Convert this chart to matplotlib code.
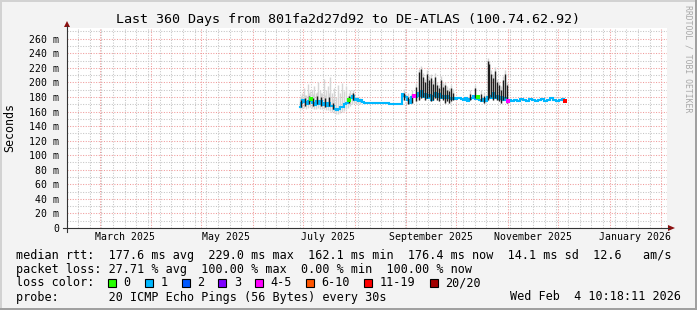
import datetime as dt
import matplotlib
matplotlib.use("Agg")
import matplotlib.pyplot as plt
import matplotlib.dates as mdates
from matplotlib.lines import Line2D
from matplotlib.patches import Rectangle, Polygon

# ---- data (x = days since graph start, y = ms) ----
t_end = dt.datetime(2026, 2, 4, 10, 18, 11)
t_start = t_end - dt.timedelta(days=360)

med_day = [139.8, 140.4, 141.6, 142.8, 144.0, 145.2, 146.4, 147.6, 148.8, 150.0,
           151.2, 152.4, 153.6, 154.8, 156.0, 157.2, 158.4, 159.6, 160.8, 162.0,
           163.2, 164.4, 165.6, 166.8, 168.0, 169.2, 170.4, 171.6, 172.8, 174.0,
           175.2, 176.4, 177.6, 178.8, 187.8, 198.6, 200.4,
           201.0, 202.2, 203.4, 204.6, 205.8, 207.0, 208.2, 209.4, 210.6, 211.8,
           213.0, 214.2, 215.4, 216.6, 217.8, 219.0, 220.2, 221.4, 222.6, 223.8,
           225.0, 226.2, 227.4, 228.6, 229.8, 231.0, 232.2, 233.4, 234.6, 235.8,
           237.0, 238.2, 239.4, 240.6, 241.8, 243.0, 244.2, 245.4, 246.6, 247.8,
           249.0, 250.2, 251.4, 252.6, 253.8, 255.0, 256.2, 257.4, 258.6, 259.8,
           261.0, 262.2, 263.4, 264.6, 265.8, 267.0,
           268.8, 270.6, 272.4, 274.2, 276.0, 277.8, 279.6, 281.4, 283.2, 285.0,
           286.8, 288.6, 290.4, 292.2, 294.0, 295.8, 297.6, 298.8]
med_ms = [166, 172, 176, 173, 170, 174, 177, 172, 169, 175,
          171, 174, 169, 172, 168, 172, 167, 168, 164, 162,
          163, 166, 166, 170, 172, 176, 179, 182, 176, 177,
          175, 176, 173, 172, 172, 171, 171,
          184, 182, 180, 176, 172, 180, 182, 180, 186, 181,
          188, 180, 184, 178, 183, 176, 182, 185, 180, 184,
          178, 182, 179, 181, 178, 177, 178, 177, 179, 178,
          177, 176, 178, 175, 177, 179, 181, 177, 180, 176,
          175, 177, 174, 180, 182, 179, 185, 178, 182, 177,
          180, 176, 178, 174, 176, 175,
          176, 175, 177, 176, 175, 177, 176, 174, 176, 177,
          175, 176, 178, 176, 175, 176, 177, 175]

# light smoke (ping spread)
smoke_day = [139.8, 141.0, 142.2, 143.4, 144.6, 145.8, 147.0, 148.2, 149.4, 150.6,
             151.8, 153.0, 154.2, 155.4, 156.6, 157.8, 159.0, 160.2, 161.4, 162.6,
             163.8, 165.0, 166.2, 167.4, 168.6, 169.8, 171.0, 172.2, 173.4, 174.6,
             175.8]
smoke_lo = [163, 164, 165, 164, 165, 166, 165, 164, 164, 165,
            164, 164, 163, 162, 162, 161, 160, 158, 157, 157,
            158, 160, 161, 163, 165, 168, 170, 172, 171, 170, 170]
smoke_hi = [178, 186, 192, 183, 198, 188, 190, 195, 185, 200,
            190, 186, 205, 190, 195, 207, 185, 192, 180, 196,
            186, 199, 188, 195, 182, 190, 186, 184, 180, 178, 178]

# dense (dark) smoke
dark_day = [140.4, 142.8, 145.2, 147.6, 150.0, 152.4, 154.8, 157.2, 159.6, 169.2, 171.6,
            202.2, 204.6, 207.0, 209.4, 211.2, 212.4, 213.6, 214.8, 216.0, 217.2,
            218.4, 219.6, 220.8, 222.0, 223.2, 224.4, 225.6, 226.8, 228.0, 229.2,
            230.4, 231.6, 241.8, 244.8, 248.4, 250.2, 252.6, 253.2, 254.4, 255.6,
            256.8, 258.0, 259.2, 260.4, 261.6, 262.8, 264.0]
dark_lo = [166, 168, 170, 168, 170, 168, 166, 168, 163, 172, 176,
           176, 170, 172, 174, 176, 178, 180, 176, 178, 180,
           174, 176, 178, 176, 174, 178, 176, 172, 175, 172,
           174, 176, 176, 178, 174, 172, 176, 178, 180, 176,
           178, 176, 174, 172, 176, 178, 172]
dark_hi = [176, 178, 181, 179, 182, 180, 178, 180, 172, 181, 185,
           186, 180, 184, 194, 214, 218, 208, 200, 212, 204,
           206, 198, 208, 196, 192, 204, 194, 196, 190, 188,
           192, 186, 184, 192, 184, 182, 229, 225, 212, 206,
           216, 200, 196, 190, 204, 212, 196]

# loss colour markers on the median line
mark_day = [146.4, 169.2, 208.2, 246.6, 264.6, 298.8]
mark_ms = [177, 176, 182, 180, 174, 175]
mark_loss = ['0', '0', '4-5', '0', '4-5', '11-19']

loss_labels = ['0', '1', '2', '3', '4-5', '6-10', '11-19', '20/20']
loss_colors = ['#26ff00', '#00b8ff', '#0059ff', '#7e00ff', '#ff00ff',
               '#ff5500', '#ff0000', '#a10000']

label_months = [(2025, 3), (2025, 5), (2025, 7), (2025, 9), (2025, 11), (2026, 1)]
y_ticks = list(range(0, 261, 20))

legend_lines = [
    "median rtt:  177.6 ms avg  229.0 ms max  162.1 ms min  176.4 ms now  14.1 ms sd  12.6   am/s",
    "packet loss: 27.71 % avg  100.00 % max  0.00 % min  100.00 % now",
]
probe_text = "probe:       20 ICMP Echo Pings (56 Bytes) every 30s"
stamp_text = "Wed Feb  4 10:18:11 2026"
title = "Last 360 Days from 801fa2d27d92 to DE-ATLAS (100.74.62.92)"

# ---- drawing ----
W, H = 697, 310
MONO = "DejaVu Sans Mono"
plt.rcParams['font.family'] = MONO


def fx(x):
    return x / W


def fy(y):
    return 1 - y / H


fig = plt.figure(figsize=(W / 100, H / 100), dpi=100, facecolor='#f3f3f3')
ax = fig.add_axes([fx(67), fy(228), 600 / W, 200 / H], facecolor='white')
for s in ax.spines.values():
    s.set_visible(False)

x0 = mdates.date2num(t_start)
x1 = mdates.date2num(t_end)
ax.set_xlim(x0, x1)
ax.set_ylim(0, 274.8)

# grid
grid_gray = '#c4c4c4'
grid_red = '#f09a9a'
dots = (0, (1, 1.5))
d = dt.datetime(t_start.year, t_start.month, t_start.day) + dt.timedelta(days=1)
while d < t_end:
    if d.weekday() == 6 and d.day != 1:
        ax.axvline(mdates.date2num(d), color=grid_gray, lw=0.75, ls=dots, zorder=0)
    d += dt.timedelta(days=1)
for yr in (2025, 2026):
    for m in range(1, 13):
        d = dt.datetime(yr, m, 1)
        if t_start < d < t_end:
            ax.axvline(mdates.date2num(d), color=grid_red, lw=0.75, ls=dots, zorder=0)
for v in range(10, 275, 10):
    ax.axhline(v, color=grid_red if v % 20 == 0 else grid_gray, lw=0.75, ls=dots, zorder=0)

# smoke
ax.vlines([x0 + t for t in smoke_day], smoke_lo, smoke_hi,
          color='#d6d6d6', lw=1.0, zorder=1)
ax.vlines([x0 + t for t in dark_day], dark_lo, [h + 5 for h in dark_hi],
          color='#d2d2d2', lw=1.0, zorder=1)

# median
ax.plot([x0 + t for t in med_day], med_ms, color=loss_colors[1], lw=1.5,
        drawstyle='steps-mid', solid_joinstyle='miter', zorder=2)
ax.vlines([x0 + t for t in dark_day], dark_lo, dark_hi,
          color='#1e1e1e', lw=1.0, zorder=3)
pal = dict(zip(loss_labels, loss_colors))
for t, v, l in zip(mark_day, mark_ms, mark_loss):
    ax.plot(x0 + t, v, marker='s', ms=2.2, mew=0, color=pal[l], zorder=4)

# ticks / labels
ax.set_yticks(y_ticks)
ax.set_yticklabels(['0' if v == 0 else f'{v} m' for v in y_ticks], fontsize=7.1)
ax.set_xticks([mdates.date2num(dt.datetime(y, m, 1) + dt.timedelta(days=15))
               for y, m in label_months])
ax.set_xticklabels([dt.datetime(y, m, 1).strftime('%B %Y') for y, m in label_months],
                   fontsize=7.1)
ax.tick_params(axis='y', length=0, pad=5.8)
ax.tick_params(axis='x', length=0, pad=3.2)

# axes lines and arrows
axis_col = '#333333'
arrow_col = '#8b1010'
fig.add_artist(Line2D([fx(67), fx(67)], [fy(232), fy(26)], color=axis_col, lw=0.8))
fig.add_artist(Line2D([fx(63), fx(669)], [fy(228), fy(228)], color=axis_col, lw=0.8))
fig.add_artist(Polygon([(fx(64), fy(27)), (fx(70), fy(27)), (fx(67), fy(21))],
                       closed=True, color=arrow_col, lw=0))
fig.add_artist(Polygon([(fx(668), fy(225)), (fx(668), fy(231)), (fx(675), fy(228))],
                       closed=True, color=arrow_col, lw=0))

# frame shading
fig.add_artist(Rectangle((0, fy(2)), 1, 2 / H, color='#d2d2d2', lw=0))
fig.add_artist(Rectangle((0, 0), 2 / W, 1, color='#d2d2d2', lw=0))
fig.add_artist(Rectangle((0, 0), 1, 2 / H, color='#a0a0a0', lw=0))
fig.add_artist(Rectangle((fx(695), 0), 2 / W, 1, color='#a0a0a0', lw=0))

# texts
fig.text(0.5, fy(19), title, ha='center', va='center', fontsize=9.6)
fig.text(fx(10), fy(128), 'Seconds', rotation=90, ha='center', va='center', fontsize=8.4)
fig.text(fx(688), fy(5), 'RRDTOOL / TOBI OETIKER', rotation=270, ha='center', va='top',
         fontsize=5.9, color='#a8a8a8')

fs = 8.5
cw = 7.1
fig.text(fx(16), fy(255), legend_lines[0], va='center', fontsize=fs)
fig.text(fx(16), fy(269), legend_lines[1], va='center', fontsize=fs)
fig.text(fx(16), fy(283), 'loss color:', va='center', fontsize=fs)
bx = 108
for lab, col in zip(loss_labels, loss_colors):
    fig.add_artist(Rectangle((fx(bx), fy(287)), 8 / W, 8 / H, facecolor=col,
                             edgecolor='black', lw=0.8))
    fig.text(fx(bx + 15.5), fy(283), lab, va='center', fontsize=fs)
    bx = bx + 15.5 + (len(lab) + 2) * cw
fig.text(fx(16), fy(297), probe_text, va='center', fontsize=fs)
fig.text(fx(681), fy(297), stamp_text, ha='right', va='center', fontsize=fs)

fig.savefig('out.png', dpi=100, facecolor=fig.get_facecolor())
